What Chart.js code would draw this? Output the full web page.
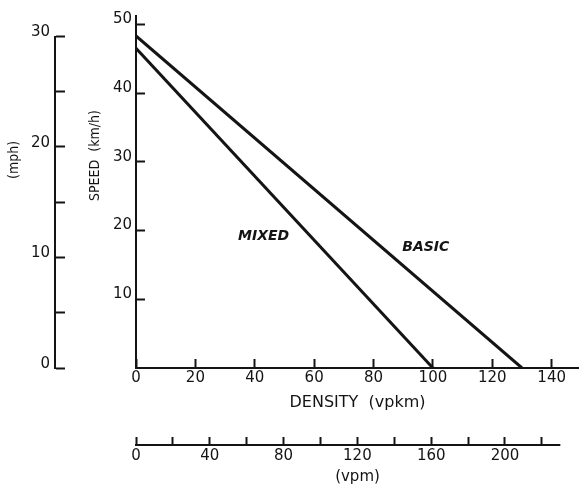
<!DOCTYPE html>
<html>
<head>
<meta charset="utf-8">
<script src="https://cdn.jsdelivr.net/npm/chart.js@4.4.1/dist/chart.umd.min.js"></script>
<style>
html,body{margin:0;padding:0;background:#fff;}
#wrap{width:579px;height:484px;}
</style>
</head>
<body>
<div id="wrap"><canvas id="c" width="579" height="484"></canvas></div>
<script>
// ---- data ----
const seriesNames = ['BASIC', 'MIXED'];
const basicDensity = [0, 130];     // vpkm
const basicSpeed = [48.3, 0];      // km/h
const mixedDensity = [0, 100];     // vpkm
const mixedSpeed = [46.5, 0];      // km/h

const densityTicks = [0, 20, 40, 60, 80, 100, 120, 140];
const speedTicks = [10, 20, 30, 40, 50];
const mphTicks = [0, 5, 10, 15, 20, 25, 30];
const mphLabels = [0, 10, 20, 30];
const vpmTicks = [0, 20, 40, 60, 80, 100, 120, 140, 160, 180, 200, 220];
const vpmLabels = [0, 40, 80, 120, 160, 200];

const densityMax = 149.2;
const speedMax = 51.2;
const KMH_PER_MPH = 1.609344;
const vpmLineEnd = 230;

// label anchors in data units (vpkm, km/h)
const seriesLabelDensity = [97.6, 43];
const seriesLabelSpeed = [17.5, 19.2];

const INK = '#141414';
const FONT = '"DejaVu Sans", sans-serif';

function fixedTicks(list) {
  return function (scale) { scale.ticks = list.map(v => ({ value: v })); };
}
function fixWidth(w) {
  return function (s) { s.width = w; s.paddingTop = 0; s.paddingBottom = 0; };
}

const extras = {
  id: 'extras',
  afterDraw(chart) {
    const ctx = chart.ctx;
    const { x, y, mph, vpm } = chart.scales;
    ctx.save();
    ctx.strokeStyle = INK;
    ctx.lineWidth = 2;
    ctx.lineCap = 'butt';
    // secondary axis lines
    ctx.beginPath();
    ctx.moveTo(mph.right - 1, mph.getPixelForValue(mphTicks[0]) + 1);
    ctx.lineTo(mph.right - 1, mph.getPixelForValue(mphTicks[mphTicks.length - 1]));
    ctx.stroke();
    ctx.beginPath();
    ctx.moveTo(vpm.getPixelForValue(0) - 1, vpm.top + 1);
    ctx.lineTo(vpm.getPixelForValue(vpmLineEnd), vpm.top + 1);
    ctx.stroke();

    // vertical axis titles
    ctx.fillStyle = INK;
    ctx.textAlign = 'center';
    ctx.textBaseline = 'middle';
    ctx.font = '14px "DejaVu Sans Condensed", "DejaVu Sans", sans-serif';
    ctx.save();
    ctx.translate(y.left + 39, y.getPixelForValue(30.9));
    ctx.rotate(-Math.PI / 2);
    ctx.fillText('SPEED  (km/h)', 0, 0);
    ctx.restore();
    ctx.save();
    ctx.translate(mph.left + 14, mph.getPixelForValue(18.8));
    ctx.rotate(-Math.PI / 2);
    ctx.fillText('(mph)', 0, 0);
    ctx.restore();

    // series labels
    ctx.font = 'italic bold 14px ' + FONT;
    for (let i = 0; i < seriesNames.length; i++) {
      ctx.fillText(seriesNames[i], x.getPixelForValue(seriesLabelDensity[i]), y.getPixelForValue(seriesLabelSpeed[i]));
    }
    ctx.restore();
  }
};

const tickFont = { family: FONT, size: 15 };

new Chart(document.getElementById('c'), {
  type: 'scatter',
  data: {
    datasets: [
      {
        label: seriesNames[0],
        data: basicDensity.map((d, i) => ({ x: d, y: basicSpeed[i] })),
        showLine: true, borderColor: INK, borderWidth: 3, pointRadius: 0, fill: false
      },
      {
        label: seriesNames[1],
        data: mixedDensity.map((d, i) => ({ x: d, y: mixedSpeed[i] })),
        showLine: true, borderColor: INK, borderWidth: 3, pointRadius: 0, fill: false
      }
    ]
  },
  options: {
    responsive: false,
    animation: false,
    devicePixelRatio: 1,
    layout: { padding: { top: 16, left: 0, right: 0, bottom: 0 } },
    plugins: { legend: { display: false }, tooltip: { enabled: false } },
    scales: {
      x: {
        type: 'linear', position: 'bottom', weight: 0,
        min: 0, max: densityMax,
        afterBuildTicks: fixedTicks(densityTicks),
        afterFit: s => { s.height = 76; },
        grid: { drawOnChartArea: false, drawTicks: true, tickLength: -9, tickWidth: 2, tickColor: INK },
        border: { display: true, color: INK, width: 2 },
        ticks: { padding: 10, font: tickFont, color: INK, maxRotation: 0, autoSkip: false },
        title: { display: true, text: 'DENSITY  (vpkm)', color: INK, font: { family: FONT, size: 16 }, padding: { top: 0, bottom: 32 } }
      },
      vpm: {
        type: 'linear', position: 'bottom', weight: 1,
        min: 0, max: densityMax * KMH_PER_MPH,
        afterBuildTicks: fixedTicks(vpmTicks),
        afterFit: s => { s.height = 40; },
        grid: { drawOnChartArea: false, drawTicks: true, tickLength: -7, tickWidth: 2, tickColor: INK },
        border: { display: false },
        ticks: {
          padding: 10, font: tickFont, color: INK, maxRotation: 0, autoSkip: false,
          callback: v => (vpmLabels.includes(v) ? String(v) : '')
        },
        title: { display: true, text: '(vpm)', color: INK, font: { family: FONT, size: 15, lineHeight: 1 }, padding: { top: 0, bottom: -1 } }
      },
      y: {
        type: 'linear', position: 'left', weight: 0,
        min: 0, max: speedMax,
        afterBuildTicks: fixedTicks(speedTicks),
        afterFit: fixWidth(80),
        grid: { drawOnChartArea: false, drawTicks: true, tickLength: -9, tickWidth: 2, tickColor: INK },
        border: { display: true, color: INK, width: 2 },
        ticks: { padding: 13, labelOffset: -5, font: tickFont, color: INK, autoSkip: false },
        title: { display: false }
      },
      mph: {
        type: 'linear', position: 'left', weight: 1,
        min: 0, max: speedMax / KMH_PER_MPH,
        afterBuildTicks: fixedTicks(mphTicks),
        afterFit: fixWidth(56),
        grid: { drawOnChartArea: false, drawTicks: true, tickLength: -9, tickWidth: 2, tickColor: INK },
        border: { display: false },
        ticks: {
          padding: 15, labelOffset: -4, font: tickFont, color: INK, autoSkip: false,
          callback: v => (mphLabels.includes(v) ? String(v) : '')
        },
        title: { display: false }
      }
    }
  },
  plugins: [extras]
});
</script>
</body>
</html>
